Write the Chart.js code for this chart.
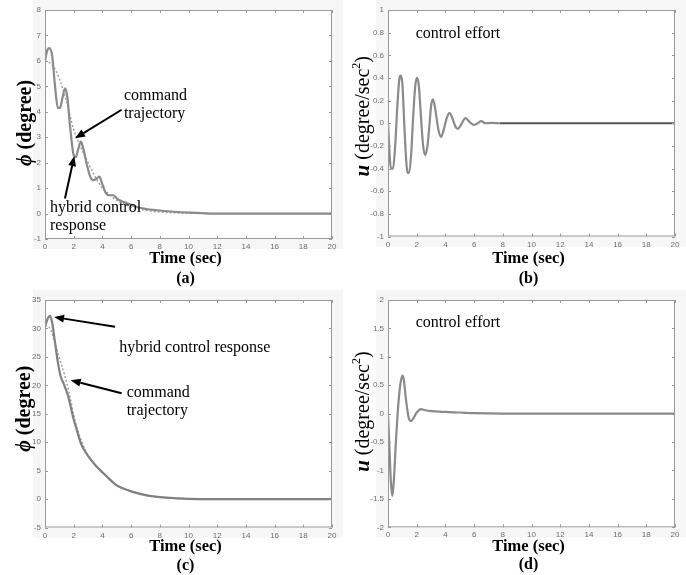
<!DOCTYPE html>
<html>
<head>
<meta charset="utf-8">
<script src="https://cdn.jsdelivr.net/npm/chart.js@4.4.1/dist/chart.umd.min.js"></script>
<style>
  body { margin: 0; background: #fff; width: 686px; height: 575px; position: relative; overflow: hidden; }
  canvas { position: absolute; }
</style>
</head>
<body>
<canvas id="pa" width="343" height="287" style="left:0;top:0"></canvas>
<canvas id="pb" width="343" height="287" style="left:343px;top:0"></canvas>
<canvas id="pc" width="343" height="288" style="left:0;top:287px"></canvas>
<canvas id="pd" width="343" height="288" style="left:343px;top:287px"></canvas>
<script>
// time axis shared by all four plots
const xTicks = [0, 2, 4, 6, 8, 10, 12, 14, 16, 18, 20];

// (a) small initial angle
const yTicksA = [-1, 0, 1, 2, 3, 4, 5, 6, 7, 8];
const hybridTimeA = [0, 0.15, 0.3, 0.5, 0.7, 0.9, 1.05, 1.2, 1.4, 1.55, 1.75, 2.0, 2.15, 2.3, 2.5, 2.65, 2.9, 3.15, 3.37, 3.55, 3.79, 4.0, 4.2, 4.45, 4.76, 5.0, 5.2, 5.5, 5.9, 6.6, 7.8, 9, 10.5, 12, 20];
const hybridA = [6.0, 6.4, 6.5, 6.2, 5.0, 4.15, 4.15, 4.5, 4.92, 4.6, 3.4, 2.3, 2.22, 2.5, 2.83, 2.6, 1.97, 1.45, 1.31, 1.35, 1.45, 1.15, 0.85, 0.72, 0.72, 0.6, 0.52, 0.45, 0.37, 0.23, 0.13, 0.07, 0.03, 0, 0];
const commandTimeA = [0, 0.5, 1, 1.5, 2, 2.5, 3, 3.5, 4, 4.5, 5, 6, 7, 8, 9, 10, 20];
const commandA = [6.0, 5.85, 5.3, 4.4, 3.3, 2.6, 2.0, 1.45, 1.0, 0.75, 0.52, 0.26, 0.13, 0.06, 0.03, 0.01, 0];

// (b) control effort for (a)
const yTicksB = [-1, -0.8, -0.6, -0.4, -0.2, 0, 0.2, 0.4, 0.6, 0.8, 1];
const effortTimeB = [0, 0.1, 0.2, 0.35, 0.5, 0.65, 0.8, 0.88, 1.0, 1.15, 1.3, 1.44, 1.6, 1.75, 1.9, 2.02, 2.15, 2.3, 2.45, 2.6, 2.75, 2.9, 3.0, 3.13, 3.3, 3.5, 3.71, 3.9, 4.1, 4.29, 4.5, 4.7, 4.87, 5.1, 5.4, 5.7, 5.99, 6.25, 6.5, 6.8, 7.2, 7.8];
const effortB = [0, -0.25, -0.4, -0.4, -0.2, 0.15, 0.4, 0.42, 0.35, -0.05, -0.38, -0.44, -0.3, 0.05, 0.33, 0.4, 0.33, 0.05, -0.2, -0.28, -0.2, 0.0, 0.15, 0.21, 0.12, -0.05, -0.12, -0.05, 0.05, 0.09, 0.04, -0.03, -0.05, -0.01, 0.045, 0.01, -0.015, 0.0, 0.018, 0.0, 0.003, 0];
const settledTimeB = [7.8, 20];
const settledB = [0, 0];

// (c) large initial angle
const yTicksC = [-5, 0, 5, 10, 15, 20, 25, 30, 35];
const hybridTimeC = [0, 0.2, 0.35, 0.5, 0.7, 0.9, 1.1, 1.3, 1.6, 2.0, 2.2, 2.5, 3, 3.5, 4, 4.5, 5, 5.5, 6, 7, 8, 9, 10, 11, 20];
const hybridC = [30.3, 31.8, 32.2, 31, 27.5, 24, 21.5, 20.3, 18.2, 14.0, 12.3, 9.8, 7.6, 6.0, 4.7, 3.5, 2.4, 1.8, 1.35, 0.7, 0.35, 0.15, 0.05, 0, 0];
const commandTimeC = [0, 0.35, 0.7, 1.0, 1.4, 1.7, 2.0, 2.3, 2.6, 3, 3.5, 4, 4.5, 5, 5.5, 6, 7, 8, 9, 10, 11, 20];
const commandC = [30.5, 30.0, 27.4, 24.8, 21.5, 18.5, 14.8, 12.0, 9.8, 7.7, 6.0, 4.7, 3.5, 2.4, 1.8, 1.35, 0.7, 0.35, 0.15, 0.05, 0, 0];

// (d) control effort for (c)
const yTicksD = [-2, -1.5, -1, -0.5, 0, 0.5, 1, 1.5, 2];
const effortTimeD = [0, 0.1, 0.2, 0.3, 0.4, 0.55, 0.7, 0.85, 1.0, 1.1, 1.25, 1.45, 1.62, 1.8, 2.0, 2.3, 2.6, 3, 4, 5, 6, 8, 20];
const effortD = [0, -0.6, -1.2, -1.45, -1.2, -0.5, 0.1, 0.5, 0.67, 0.6, 0.25, -0.08, -0.13, -0.07, 0.02, 0.08, 0.06, 0.045, 0.03, 0.02, 0.008, 0, 0];

const SERIF = '"Liberation Serif", "Times New Roman", serif';
const SANS = '"Liberation Sans", Arial, sans-serif';
const pts = (xs, ys) => xs.map((x, i) => ({ x: x, y: ys[i] }));

const deco = {
  id: 'deco',
  beforeDraw(chart, args, o) {
    const { ctx, chartArea: a } = chart;
    ctx.save();
    ctx.fillStyle = '#f6f6f6';
    const top = Math.max(0, a.top - 10);
    ctx.fillRect(a.left - 12, top, chart.width - a.left + 12, a.bottom + 10 - top);
    ctx.fillStyle = '#fff';
    ctx.fillRect(a.left, a.top, a.right - a.left, a.bottom - a.top);
    ctx.restore();
  },
  afterDraw(chart, args, o) {
    const { ctx, chartArea: a, scales } = chart;
    const sx = scales.x, sy = scales.y;
    ctx.save();
    // box and inward ticks
    ctx.strokeStyle = '#999';
    ctx.lineWidth = 1;
    ctx.strokeRect(a.left + 0.5, a.top + 0.5, a.right - a.left - 1, a.bottom - a.top - 1);
    ctx.beginPath();
    sx.ticks.forEach(t => {
      const px = Math.round(sx.getPixelForValue(t.value)) + 0.5;
      ctx.moveTo(px, a.bottom); ctx.lineTo(px, a.bottom - 3);
      ctx.moveTo(px, a.top); ctx.lineTo(px, a.top + 3);
    });
    sy.ticks.forEach(t => {
      const py = Math.round(sy.getPixelForValue(t.value)) + 0.5;
      ctx.moveTo(a.left, py); ctx.lineTo(a.left + 3, py);
      ctx.moveTo(a.right, py); ctx.lineTo(a.right - 3, py);
    });
    ctx.stroke();

    const cx = (a.left + a.right) / 2 - 3;
    ctx.fillStyle = '#000';
    ctx.textAlign = 'center';
    ctx.textBaseline = 'alphabetic';
    ctx.font = 'bold 16.5px ' + SERIF;
    ctx.fillText('Time (sec)', cx, a.bottom + o.titleDy);
    ctx.font = 'bold 16px ' + SERIF;
    ctx.fillText(o.label, cx, a.bottom + o.labelDy);

    // rotated y title with mixed fonts
    ctx.save();
    ctx.translate(o.yTitleX, (a.top + a.bottom) / 2 + o.yTitleDy);
    ctx.rotate(-Math.PI / 2);
    let w = 0;
    o.yTitle.forEach(p => { ctx.font = p.font; p.w = ctx.measureText(p.text).width; w += p.w; });
    let x = -w / 2;
    ctx.textAlign = 'left';
    o.yTitle.forEach(p => { ctx.font = p.font; ctx.fillText(p.text, x, 7 + (p.dy || 0)); x += p.w; });
    ctx.restore();

    // annotations
    ctx.textAlign = 'left';
    ctx.font = '16px ' + SERIF;
    (o.notes || []).forEach(n => {
      const px = sx.getPixelForValue(n.x), py = sy.getPixelForValue(n.y);
      n.lines.forEach((s, i) => ctx.fillText(s, px, py + i * 18));
    });
    ctx.strokeStyle = '#000';
    ctx.lineWidth = 2;
    (o.arrows || []).forEach(ar => {
      const x0 = sx.getPixelForValue(ar.from[0]), y0 = sy.getPixelForValue(ar.from[1]);
      const x1 = sx.getPixelForValue(ar.to[0]), y1 = sy.getPixelForValue(ar.to[1]);
      const ang = Math.atan2(y1 - y0, x1 - x0);
      const hl = 10, hw = 4;
      const bx = x1 - hl * Math.cos(ang), by = y1 - hl * Math.sin(ang);
      ctx.beginPath(); ctx.moveTo(x0, y0); ctx.lineTo(bx, by); ctx.stroke();
      ctx.beginPath();
      ctx.moveTo(x1, y1);
      ctx.lineTo(bx + hw * Math.sin(ang), by - hw * Math.cos(ang));
      ctx.lineTo(bx - hw * Math.sin(ang), by + hw * Math.cos(ang));
      ctx.closePath(); ctx.fill();
    });
    ctx.restore();
  }
};

function solid(data, color) {
  return { data: data, borderColor: color || '#8a8a8a', borderWidth: 2.2, pointRadius: 0, cubicInterpolationMode: 'monotone', fill: false };
}
function dotted(data) {
  return { data: data, borderColor: '#a0a0a0', borderWidth: 1.5, borderDash: [2, 2], pointRadius: 0, cubicInterpolationMode: 'monotone', fill: false };
}

function makeChart(id, datasets, yTicks, pad, xHeight, opts) {
  return new Chart(document.getElementById(id), {
    type: 'line',
    data: { datasets: datasets },
    options: {
      responsive: false,
      animation: false,
      devicePixelRatio: 1,
      layout: { padding: { left: 0, right: 11, top: pad, bottom: 0 } },
      plugins: { legend: { display: false }, tooltip: { enabled: false }, deco: opts },
      scales: {
        x: {
          type: 'linear', min: 0, max: 20,
          grid: { display: false, drawTicks: false }, border: { display: false },
          afterBuildTicks: s => { s.ticks = xTicks.map(v => ({ value: v })); },
          afterFit: s => { s.height = xHeight; s.paddingLeft = 0; s.paddingRight = 0; },
          ticks: { color: '#6e6e6e', padding: 3, maxRotation: 0, autoSkip: false, font: { family: SANS, size: 8 }, callback: v => String(v) }
        },
        y: {
          type: 'linear', min: yTicks[0], max: yTicks[yTicks.length - 1],
          grid: { display: false, drawTicks: false }, border: { display: false },
          afterBuildTicks: s => { s.ticks = yTicks.map(v => ({ value: v })); },
          afterFit: s => { s.width = 45; s.paddingTop = 0; s.paddingBottom = 0; },
          ticks: { color: '#6e6e6e', padding: 4, autoSkip: false, font: { family: SANS, size: 8 }, callback: v => String(v) }
        }
      }
    },
    plugins: [deco]
  });
}

const phiTitle = [
  { text: '\u03D5', font: 'italic bold 20px ' + SERIF },
  { text: ' (degree)', font: 'bold 20px ' + SERIF }
];
const uTitle = () => [
  { text: 'u', font: 'italic bold 21px ' + SERIF },
  { text: ' (degree/sec', font: '20px ' + SERIF },
  { text: '2', font: '12px ' + SERIF, dy: -9 },
  { text: ')', font: '20px ' + SERIF }
];

makeChart('pa', [solid(pts(hybridTimeA, hybridA)), dotted(pts(commandTimeA, commandA))], yTicksA, 10, 48, {
  label: '(a)', titleDy: 23.5, labelDy: 43.7, yTitleX: 24, yTitleDy: -1.5, yTitle: phiTitle,
  notes: [
    { x: 5.5, y: 4.47, lines: ['command', 'trajectory'] },
    { x: 0.35, y: 0.06, lines: ['hybrid control', 'response'] }
  ],
  arrows: [
    { from: [5.34, 4.08], to: [2.09, 2.96] },
    { from: [1.39, 0.59], to: [2.04, 2.26] }
  ]
});

makeChart('pb', [solid(pts(effortTimeB, effortB)), solid(pts(settledTimeB, settledB), '#555')], yTicksB, 10, 50.5, {
  label: '(b)', titleDy: 26.5, labelDy: 46.8, yTitleX: 19, yTitleDy: -7, yTitle: uTitle(),
  notes: [{ x: 1.93, y: 0.753, lines: ['control effort'] }]
});

makeChart('pc', [solid(pts(hybridTimeC, hybridC), '#808080'), dotted(pts(commandTimeC, commandC))], yTicksC, 13, 47.5, {
  label: '(c)', titleDy: 23.5, labelDy: 42.5, yTitleX: 23, yTitleDy: -5, yTitle: phiTitle,
  notes: [
    { x: 5.18, y: 25.9, lines: ['hybrid control response'] },
    { x: 5.69, y: 18.0, lines: ['command', 'trajectory'] }
  ],
  arrows: [
    { from: [4.88, 30.3], to: [0.63, 32.0] },
    { from: [5.34, 18.6], to: [1.79, 20.9] }
  ]
});

makeChart('pd', [solid(pts(effortTimeD, effortD))], yTicksD, 13, 47.7, {
  label: '(d)', titleDy: 23.4, labelDy: 42, yTitleX: 19, yTitleDy: -2, yTitle: uTitle(),
  notes: [{ x: 1.93, y: 1.53, lines: ['control effort'] }]
});
</script>
</body>
</html>
